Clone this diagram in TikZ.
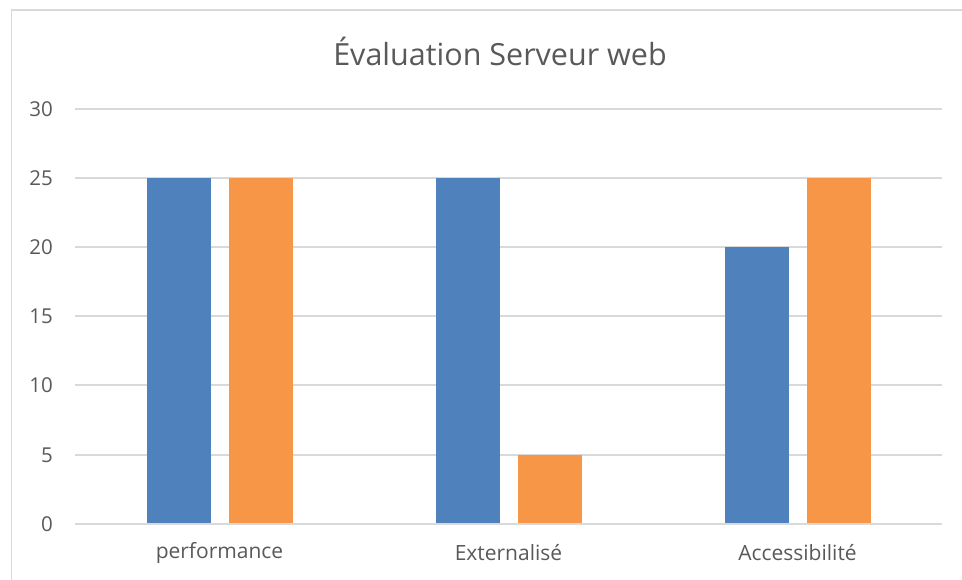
\documentclass[tikz,border=0pt]{standalone}
\usepackage{fontspec}
\setmainfont{Open Sans}
\usepackage{xcolor}
\usepackage{tikz}
\definecolor{barblue}{HTML}{4F81BD}
\definecolor{barorange}{HTML}{F79646}
\definecolor{gridgray}{HTML}{D9D9D9}
\definecolor{textgray}{HTML}{595959}
\tikzset{
	ticklabel/.style={anchor=east, inner sep=0pt, text=textgray, font=\fontsize{20.5}{22}\selectfont},
	catlabel/.style={anchor=center, inner sep=0pt, text=textgray, font=\fontsize{21}{23}\selectfont},
	charttitle/.style={anchor=center, inner sep=0pt, text=textgray, font=\fontsize{30.5}{34}\selectfont}
}
\begin{document}
\begin{tikzpicture}[y=-1pt,x=1pt]
	\newcommand\GridAt[1]{(75,#1) -- (942,#1)}
	\newcommand\BlueBar[2]{[fill=barblue] (#1,524) rectangle +(64,{-13.84*#2})}
	\newcommand\OrangeBar[2]{[fill=barorange] (#1,524) rectangle +(64,{-13.84*#2})}

	\useasboundingbox (0,0) rectangle (962,579);
	\draw [gridgray, line width=1.5] (11.5,10) rectangle (980,600);

	\node[charttitle] (title) at (500,51) {Évaluation Serveur web};

	\draw [gridgray, line width=1.2] \GridAt{109};
	\draw [gridgray, line width=1.2] \GridAt{178};
	\draw [gridgray, line width=1.2] \GridAt{247};
	\draw [gridgray, line width=1.2] \GridAt{316};
	\draw [gridgray, line width=1.2] \GridAt{385};
	\draw [gridgray, line width=1.2] \GridAt{455};

	\node[ticklabel] (t30) at (53,109) {30};
	\node[ticklabel] (t25) at (53,178) {25};
	\node[ticklabel] (t20) at (53,247) {20};
	\node[ticklabel] (t15) at (53,316) {15};
	\node[ticklabel] (t10) at (53,385) {10};
	\node[ticklabel] (t5) at (53,455) {5};
	\node[ticklabel] (t0) at (53,524) {0};

	\path \BlueBar{147}{25};
	\path \OrangeBar{229}{25};
	\path \BlueBar{436}{25};
	\path \OrangeBar{518}{5};
	\path \BlueBar{725}{20};
	\path \OrangeBar{807}{25};

	\draw [gridgray, line width=1.2] \GridAt{524};

	\node[catlabel] (perf) at (219.5,553) {performance};
	\node[catlabel] (ext) at (508.5,553) {Externalisé};
	\node[catlabel] (acc) at (797.5,553) {Accessibilité};
\end{tikzpicture}
\end{document}
